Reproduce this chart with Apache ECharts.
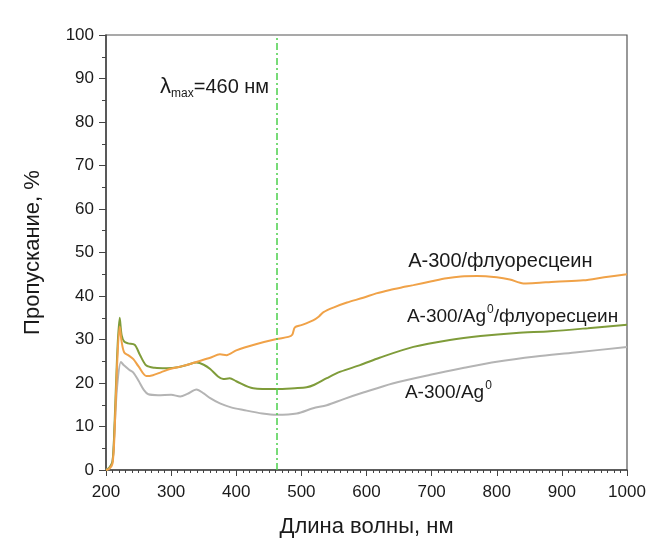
<!DOCTYPE html>
<html>
<head>
<meta charset="utf-8">
<script src="https://cdn.jsdelivr.net/npm/echarts@6/dist/echarts.min.js"></script>
<style>
html,body{margin:0;padding:0;background:#fff;}
#c{width:652px;height:545px;}
</style>
</head>
<body>
<div id="c"></div>
<script>
// Data: [wavelength nm, transmittance %]
var fluoresceinData = [[200,0],[205,0.3],[210,1.5],[213,8],[217,24],[221,33],[224,29.5],[228,27],[235,26.3],[242,25.5],[250,23.8],[262,21.6],[272,21.8],[285,22.5],[298,23.2],[320,24],[340,24.9],[360,25.8],[375,26.6],[385,26.4],[400,27.5],[430,28.9],[462,30.1],[480,30.6],[486,31.1],[490,32.8],[500,33.3],[518,34.4],[527,35.3],[534,36.3],[550,37.4],[570,38.5],[595,39.6],[615,40.6],[636,41.4],[655,42.0],[672,42.5],[700,43.4],[723,44.1],[745,44.5],[770,44.6],[800,44.3],[820,43.8],[841,42.9],[860,43.0],[890,43.3],[933,43.6],[965,44.3],[1000,45.0]];
var agFluoresceinData = [[200,0],[205,0.5],[210,2],[213,10],[217,26],[221,35],[224,31],[228,29.5],[234,29.1],[244,28.8],[252,26.5],[262,24],[275,23.5],[293,23.4],[310,23.6],[325,24.2],[339,24.7],[350,24.2],[360,23.2],[372,21.5],[380,20.9],[390,21.1],[400,20.4],[426,18.8],[462,18.6],[490,18.8],[508,19.0],[520,19.6],[539,21.1],[560,22.6],[590,24.1],[620,25.8],[672,28.3],[728,29.9],[775,30.8],[830,31.5],[882,31.9],[940,32.6],[1000,33.4]];
var agData = [[200,0],[205,0.5],[210,2],[213,9],[217,19],[223,24.8],[228,24],[236,23],[242,22.4],[250,20.5],[258,18.4],[265,17.4],[280,17.2],[300,17.3],[314,16.9],[325,17.5],[339,18.5],[350,17.6],[360,16.5],[375,15.3],[392,14.4],[411,13.8],[440,13.0],[462,12.7],[493,13.0],[518,14.2],[539,14.9],[565,16.3],[595,17.8],[640,19.9],[698,21.9],[750,23.5],[800,24.9],[860,26.1],[920,27.0],[1000,28.3]];
var lambdaMax = 462;
var lambdaLabelPos = [283, 88];
var labelFluorescein = [664, 47.9];
var labelAgFluorescein = [662, 35.2];
var labelAg = [659, 17.7];
var xTicks = {min:200, max:1000, interval:100};
var yTicks = {min:0, max:100, interval:10};

var FONT = 'Liberation Sans, Arial, sans-serif';
var chart = echarts.init(document.getElementById('c'));
var richSup = {
  sup:{fontSize:12, fontFamily:FONT, color:'#1a1a1a', padding:[0,0,14,1]},
  n:{fontSize:19, fontFamily:FONT, color:'#1a1a1a'}
};
function textMark(coord, text){
  return {
    symbol:'circle', symbolSize:0, silent:true,
    data:[{coord:coord}],
    label:{show:true, position:'right', distance:0, formatter:text, rich:richSup, color:'#1a1a1a', fontSize:19, fontFamily:FONT}
  };
}
var option = {
  animation:false,
  backgroundColor:'#fff',
  grid:{left:106, right:25, top:35, bottom:75, show:true, borderColor:'#555', borderWidth:1.2},
  xAxis:{
    type:'value', min:xTicks.min, max:xTicks.max, interval:xTicks.interval,
    name:'Длина волны, нм', nameLocation:'middle', nameGap:46,
    nameTextStyle:{fontSize:22, fontFamily:FONT, color:'#1a1a1a'},
    axisLine:{show:true, lineStyle:{color:'#444', width:1.5}},
    axisTick:{show:true, length:6, lineStyle:{color:'#444'}},
    minorTick:{show:true, splitNumber:10, length:3, lineStyle:{color:'#444'}},
    axisLabel:{fontSize:17, fontFamily:FONT, color:'#1a1a1a', margin:14, formatter:function(v){return String(v);}},
    splitLine:{show:false}
  },
  yAxis:{
    type:'value', min:yTicks.min, max:yTicks.max, interval:yTicks.interval,
    name:'Пропускание, %', nameLocation:'middle', nameGap:62, nameRotate:90,
    nameTextStyle:{fontSize:22, fontFamily:FONT, color:'#1a1a1a'},
    axisLine:{show:true, lineStyle:{color:'#444', width:1.5}},
    axisTick:{show:true, length:7, lineStyle:{color:'#444'}},
    minorTick:{show:true, splitNumber:2, length:4, lineStyle:{color:'#444'}},
    axisLabel:{fontSize:17, fontFamily:FONT, color:'#1a1a1a', margin:12},
    splitLine:{show:false}
  },
  series:[
    {name:'A-300/Ag0', type:'line', data:agData, showSymbol:false, smooth:0.3,
     lineStyle:{color:'#b4b4b4', width:2}, z:2,
     markPoint:textMark(labelAg, '{n|A-300/Ag}{sup|0}')},
    {name:'A-300/Ag0/флуоресцеин', type:'line', data:agFluoresceinData, showSymbol:false, smooth:0.3,
     lineStyle:{color:'#7f9c3a', width:2}, z:3,
     markPoint:textMark(labelAgFluorescein, '{n|A-300/Ag}{sup|0}{n|/флуоресцеин}')},
    {name:'A-300/флуоресцеин', type:'line', data:fluoresceinData, showSymbol:false, smooth:0.3,
     lineStyle:{color:'#f0a248', width:2}, z:4,
     markPoint:{
       symbol:'circle', symbolSize:0, silent:true,
       data:[{coord:labelFluorescein, label:{formatter:'{n|A-300/флуоресцеин}'}},
             {coord:lambdaLabelPos, label:{formatter:'{l|λ}{sub|max}{n|=460 нм}'}}],
       label:{show:true, position:'right', distance:0, rich:{
         n:{fontSize:20, fontFamily:FONT, color:'#1a1a1a'},
         l:{fontSize:22, fontFamily:FONT, color:'#1a1a1a'},
         sub:{fontSize:12, fontFamily:FONT, color:'#1a1a1a', padding:[12,0,0,0]}
       }}
     },
     markLine:{
       silent:true, symbol:'none',
       lineStyle:{color:'#4ccf4c', width:1.5, type:[7,3,2,3]},
       label:{show:false},
       data:[{xAxis:lambdaMax}]
     }}
  ]
};
chart.setOption(option);
</script>
</body>
</html>
